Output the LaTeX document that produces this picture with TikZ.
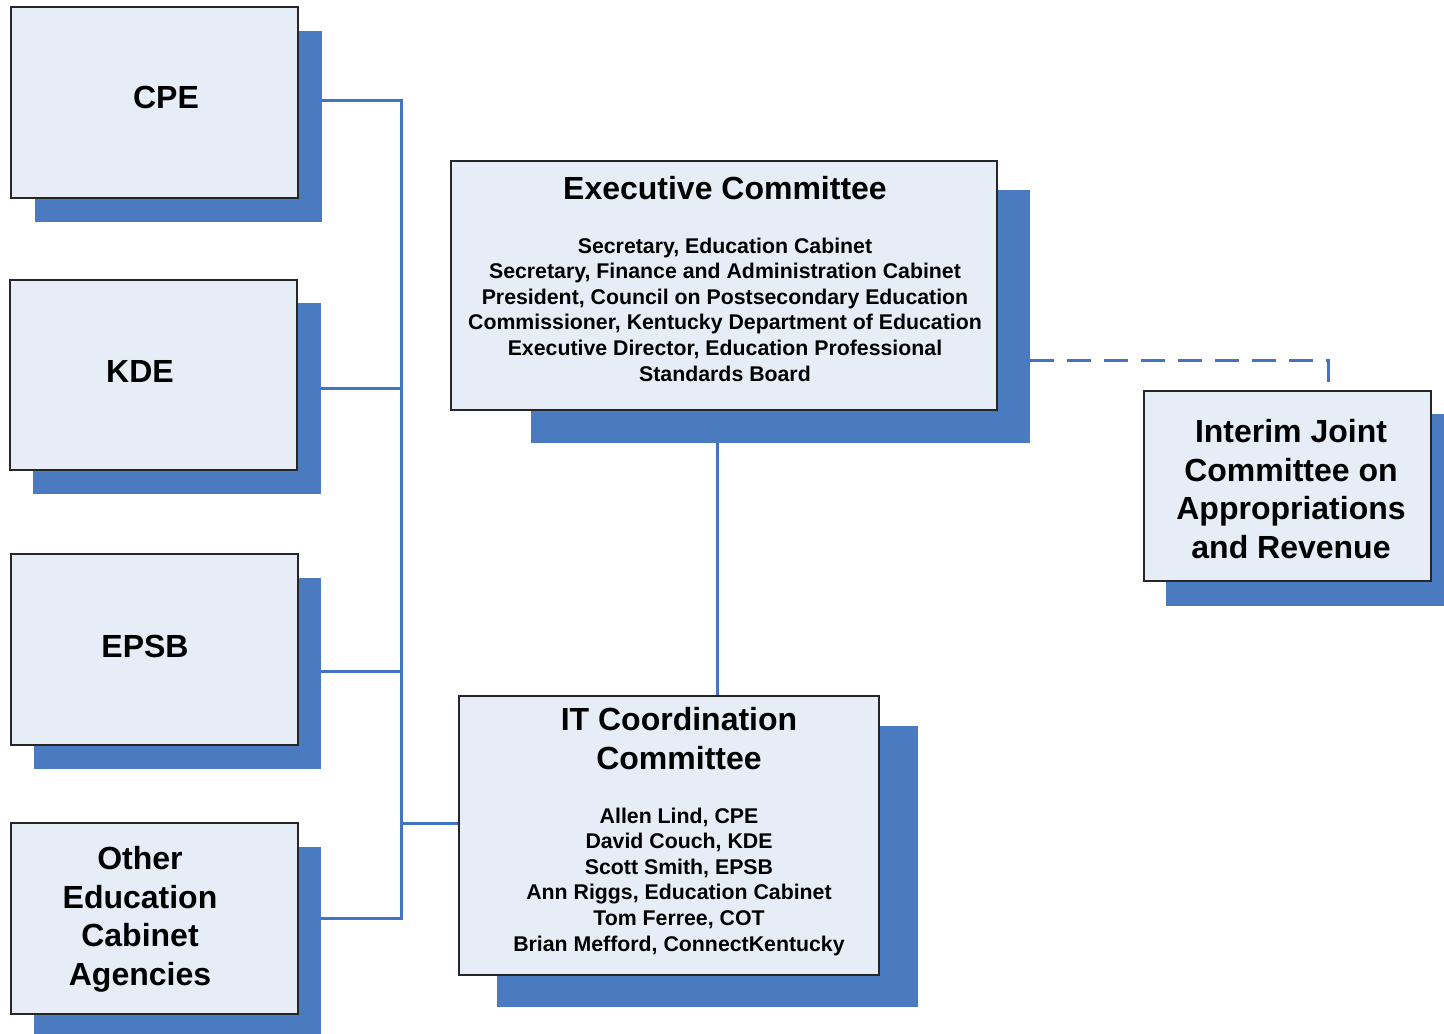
\documentclass[tikz,border=0pt]{standalone}
\usepackage{fontspec}
\setmainfont{Liberation Sans}
\usetikzlibrary{fit,calc}
\definecolor{shadowc}{HTML}{4A7AC0}
\definecolor{linec}{HTML}{4472C4}
\definecolor{boxfill}{HTML}{E7EDF7}
\tikzset{
  shadowbox/.style={fit={#1}, inner sep=0pt, fill=shadowc, draw=none},
  mainbox/.style={fit={#1}, inner sep=0pt, fill=boxfill, draw=black!85, line width=1.2pt},
  bigtext/.style={font=\bfseries\fontsize{32}{38.4}\selectfont, align=center, inner sep=0pt, anchor=north},
  bodytext/.style={font=\bfseries\fontsize{21.3}{25.6}\selectfont, align=center, inner sep=0pt, anchor=north},
  conn/.style={draw=linec, line width=3pt},
  dashconn/.style={draw=linec, line width=3pt, dash pattern=on 24pt off 13pt}
}
\begin{document}
\begin{tikzpicture}[x=1pt,y=-1pt]
\useasboundingbox[fill=white] (0,0) rectangle (1444,1034);
% shadows
\node[shadowbox={(35,31) (322,222)}] (cpeS) {};
\node[shadowbox={(33,303) (321,494)}] (kdeS) {};
\node[shadowbox={(34,578) (321,769)}] (epsbS) {};
\node[shadowbox={(34,847) (321,1034)}] (otherS) {};
\node[shadowbox={(531,190) (1030,443)}] (execS) {};
\node[shadowbox={(1166,414) (1444,606)}] (interimS) {};
\node[shadowbox={(497,726) (918,1007)}] (itS) {};
% boxes
\node[mainbox={(11,7) (298,198)}] (cpe) {};
\node[mainbox={(10,280) (297,470)}] (kde) {};
\node[mainbox={(11,554) (298,745)}] (epsb) {};
\node[mainbox={(11,823) (298,1014)}] (other) {};
\node[mainbox={(451,161) (997,410)}] (exec) {};
\node[mainbox={(1144,391) (1431,581)}] (interim) {};
\node[mainbox={(459,696) (879,975)}] (it) {};
% texts
\node[bigtext] (cpeT) at (166,85.5) {CPE};
\node[bigtext] (kdeT) at (140,360.5) {KDE};
\node[bigtext] (epsbT) at (145,634.5) {EPSB};
\node[bigtext] (otherT) at (140,846.5) {Other\\Education\\Cabinet\\Agencies};
\node[bigtext] (execT) at (725,176.5) {Executive Committee};
\node[bodytext] (execB) at (725,237.5) {Secretary, Education Cabinet\\Secretary, Finance and Administration Cabinet\\President, Council on Postsecondary Education\\Commissioner, Kentucky Department of Education\\Executive Director, Education Professional\\Standards Board};
\node[bigtext] (interimT) at (1291,419.5) {Interim Joint\\Committee on\\Appropriations\\and Revenue};
\node[bigtext] (itT) at (679,707.5) {IT Coordination\\Committee};
\node[bodytext] (itB) at (679,807.5) {Allen Lind, CPE\\David Couch, KDE\\Scott Smith, EPSB\\Ann Riggs, Education Cabinet\\Tom Ferree, COT\\Brian Mefford, ConnectKentucky};
% connectors
\coordinate (b1) at (401,100);
\coordinate (b2) at (401,388);
\coordinate (b3) at (401,671);
\coordinate (b4) at (401,823);
\coordinate (b5) at (401,918);
\coordinate (vx) at (717,0);
\coordinate (dc) at (1328,360);
\draw[conn] (cpeS.east |- b1) -- (b1) -- (b5) -- (otherS.east |- b5);
\draw[conn] (kdeS.east |- b2) -- (b2);
\draw[conn] (epsbS.east |- b3) -- (b3);
\draw[conn] (b4) -- (it.west |- b4);
\draw[conn] (execS.south -| vx) -- (it.north -| vx);
\draw[dashconn] (execS.east |- dc) -- (dc) -- ($(interim.north -| dc)+(0,-8)$);
\end{tikzpicture}
\end{document}
